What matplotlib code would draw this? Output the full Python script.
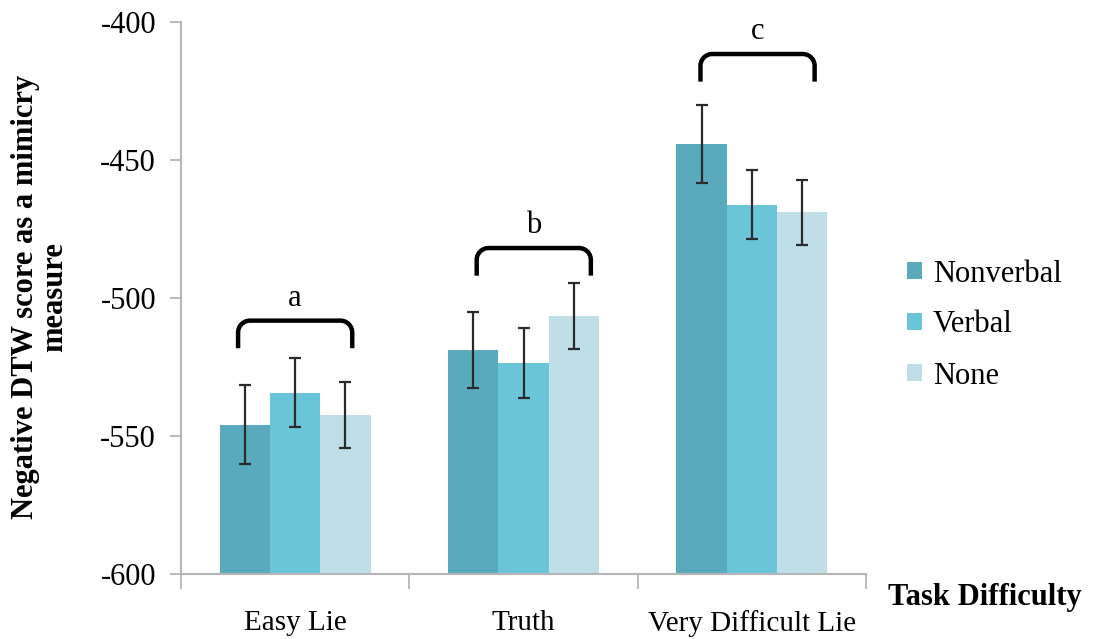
import numpy as np
import matplotlib
matplotlib.use('Agg')
import matplotlib.pyplot as plt
from matplotlib.ticker import FixedLocator

plt.rcParams['font.family'] = ['Liberation Serif', 'DejaVu Serif']
plt.rcParams['axes.unicode_minus'] = False

# task difficulty groups and mimicry conditions
tasks = ['Easy Lie', 'Truth', 'Very Difficult Lie']
conditions = ['Nonverbal', 'Verbal', 'None']

# mean negative DTW score per condition (one value per task)
nonverbal = [-546.0, -518.8, -444.2]
verbal = [-534.3, -523.4, -466.2]
none = [-542.4, -506.5, -468.9]

# standard errors
nonverbal_err = [14.3, 13.7, 14.3]
verbal_err = [12.6, 12.7, 12.6]
none_err = [11.9, 11.9, 11.8]

# significance letters over each task group
sig_letters = ['a', 'b', 'c']

colors = ['#5aaabe', '#6ac5d8', '#bfdee7']
means = [nonverbal, verbal, none]
errs = [nonverbal_err, verbal_err, none_err]

fig = plt.figure(figsize=(10.93, 6.39), dpi=100)
ax = fig.add_axes([181 / 1093, 65 / 639, 685 / 1093, 552 / 639])

x = np.arange(len(tasks))
w = 0.22
for i, (cond, m, e, c) in enumerate(zip(conditions, means, errs, colors)):
    xs = x + (i - 1) * w
    base = -600
    ax.bar(xs, np.array(m) - base, w, bottom=base, color=c, label=cond, zorder=2)
    ax.errorbar(xs, m, yerr=e, fmt='none', ecolor='#2a2a2a', elinewidth=1.6,
                capsize=4.5, capthick=1.6, zorder=3)

# curly brackets with rounded corners above each group
br_top = [-508.2, -481.9, -411.6]
br_shift = [0.0, 0.045, 0.025]
half_w = 0.25
depth = 10.0
rx, ry = 0.052, 4.3
t = np.linspace(0, np.pi / 2, 20)
for k in range(len(tasks)):
    cx = x[k] + br_shift[k]
    top = br_top[k]
    xl, xr = cx - half_w, cx + half_w
    # left leg + corner
    lx = [xl] + list(xl + rx - rx * np.cos(t))
    ly = [top - depth] + list(top - ry + ry * np.sin(t))
    # right corner + leg
    rxs = list(xr - rx + rx * np.sin(t))
    rys = list(top - ry + ry * np.cos(t))
    px = lx + rxs + [xr]
    py = ly + rys + [top - depth]
    ax.plot(px, py, color='black', lw=3.2, solid_capstyle='butt', zorder=4)
    ax.text(cx, top + 8, sig_letters[k], ha='center', va='center', fontsize=22)

ax.set_xlim(-0.5, 2.5)
ax.set_ylim(-600, -400)
ax.set_yticks([-600, -550, -500, -450, -400])
ax.tick_params(axis='y', labelsize=22, length=8, color='#b5b5b5', width=1.3, pad=10)

ax.set_xticks(x)
ax.set_xticklabels(tasks, fontsize=21)
ax.tick_params(axis='x', which='major', length=0, pad=26)
ax.xaxis.set_minor_locator(FixedLocator([-0.5, 0.5, 1.5, 2.5]))
ax.tick_params(axis='x', which='minor', length=11, color='#b5b5b5', width=1.3)

for s in ['top', 'right']:
    ax.spines[s].set_visible(False)
for s in ['left', 'bottom']:
    ax.spines[s].set_color('#b5b5b5')
    ax.spines[s].set_linewidth(1.5)

fig.text(40 / 1093, 1 - 297 / 639, 'Negative DTW score as a mimicry\nmeasure',
         rotation=90, ha='center', va='center', fontsize=22, fontweight='bold',
         linespacing=1.0, multialignment='center')
fig.text(888 / 1093, 1 - 598 / 639, 'Task Difficulty', ha='left', va='center',
         fontsize=22, fontweight='bold')

fig.legend(loc='center left', bbox_to_anchor=(907 / 1093, 1 - 325 / 639),
           frameon=False, fontsize=22, handlelength=0.5, handleheight=0.5,
           handletextpad=0.35, labelspacing=0.72, borderpad=0, borderaxespad=0)

fig.savefig('out.png', dpi=100)
